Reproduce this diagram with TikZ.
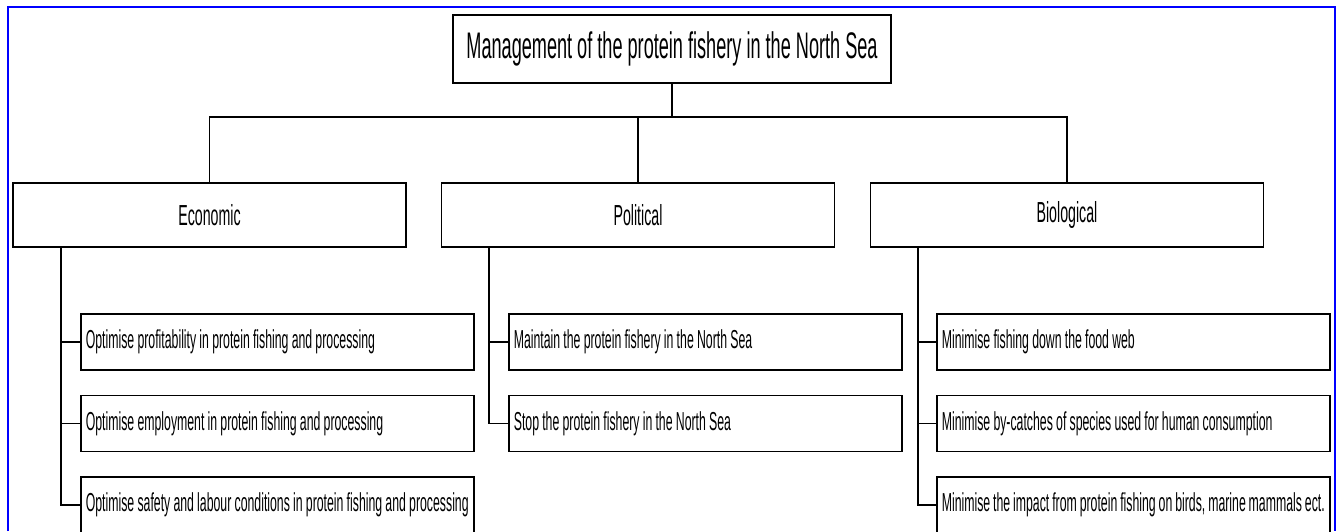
\documentclass[tikz,border=0pt]{standalone}
\usepackage{fontspec}
\usepackage{tikz}
\usetikzlibrary{positioning}
\newfontfamily\narrowsf[FakeStretch=0.49]{Liberation Sans}
\newfontfamily\goalsf[FakeStretch=0.473]{Liberation Sans}
\newcommand\tightspace{\spaceskip=3.2pt plus 1pt minus 1pt\relax}
\tikzset{
    topBox/.style={rectangle, draw=black, line width=1.6pt, fill=white, align=center, minimum width=438pt, minimum height=68pt, inner sep=0pt, font=\narrowsf\fontsize{37}{40}\selectfont},
    groupBox/.style={rectangle, draw=black, line width=1.6pt, fill=white, align=center, minimum width=393pt, minimum height=64pt, inner sep=0pt, font=\narrowsf\fontsize{29}{32}\selectfont},
    goalBox/.style={rectangle, draw=black, line width=1.6pt, fill=white, align=left, text width=383pt, minimum height=56pt, inner xsep=5pt, inner ysep=0pt, font=\goalsf\fontsize{26}{28}\selectfont, execute at begin node=\tightspace},
    link/.style={draw=black, line width=1.6pt},
    frameLine/.style={draw=blue, line width=2pt}
}
\begin{document}
\begin{tikzpicture}[x=1pt, y=-1pt, node distance=24pt]
        \useasboundingbox (0,0) rectangle (1342,531);
        % Frame
        \draw[frameLine] (8,531) |- (1335,7) -- (1335,531);

        % Title
        \node[topBox] (Root) at (672,49) {Management of the protein fishery in the North Sea};

        % Groups
        \node[groupBox] (Econ) at (209.5,215) {Economic};
        \node[groupBox] (Poli) at (638,215) {Political};
        \node[groupBox] (Bio) at (1067,215) {Biological};

        % Economic goals
        \node[goalBox, anchor=north west] (Eco1) at (80,313) {Optimise profitability in protein fishing and processing};
        \node[goalBox, below=of Eco1] (Eco2) {Optimise employment in protein fishing and processing};
        \node[goalBox, below=of Eco2] (Eco3) {Optimise safety and labour conditions in protein fishing and processing};

        % Political goals
        \node[goalBox, anchor=north west] (Pol1) at (508,313) {Maintain the protein fishery in the North Sea};
        \node[goalBox, below=of Pol1] (Pol2) {Stop the protein fishery in the North Sea};

        % Biological goals
        \node[goalBox, anchor=north west] (Bio1) at (936,313) {Minimise fishing down the food web};
        \node[goalBox, below=of Bio1] (Bio2) {Minimise by-catches of species used for human consumption};
        \node[goalBox, below=of Bio2] (Bio3) {Minimise the impact from protein fishing on birds, marine mammals ect.};

        % Tree
        \coordinate (Bus) at (672,117);
        \draw[link] (Root.south) -- (Bus);
        \draw[link] (Econ.north) |- (Bus) -| (Bio.north);
        \draw[link] (Poli.north) -- (Poli.north |- Bus);

        % Branches
        \coordinate (EconTrunk) at ([xshift=49pt]Econ.south west);
        \coordinate (PoliTrunk) at ([xshift=48pt]Poli.south west);
        \coordinate (BioTrunk) at ([xshift=48pt]Bio.south west);
        \draw[link] (EconTrunk) |- (Eco3.west);
        \draw[link] (PoliTrunk) |- (Pol2.west);
        \draw[link] (BioTrunk) |- (Bio3.west);
        \foreach \t/\g in {EconTrunk/Eco1, EconTrunk/Eco2, PoliTrunk/Pol1, BioTrunk/Bio1, BioTrunk/Bio2}
            \draw[link] (\t |- \g.west) -- (\g.west);

    \end{tikzpicture}
\end{document}
